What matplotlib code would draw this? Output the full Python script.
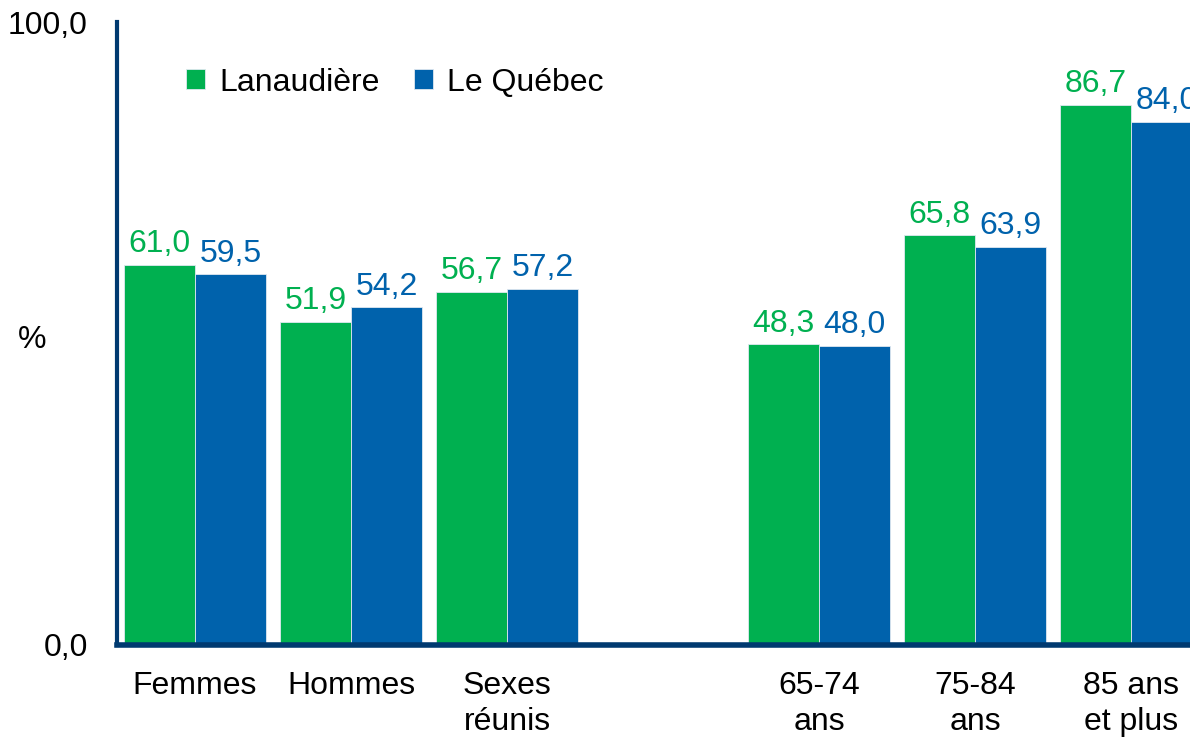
import matplotlib.pyplot as plt
import numpy as np

# Données
categories = ["Femmes", "Hommes", "Sexes\nréunis", "65-74\nans", "75-84\nans", "85 ans\net plus"]
positions = [0, 1, 2, 4, 5, 6]
lanaudiere = [61.0, 51.9, 56.7, 48.3, 65.8, 86.7]
quebec = [59.5, 54.2, 57.2, 48.0, 63.9, 84.0]

vert = "#00B050"
bleu = "#0062AC"
marine = "#003A70"
fs = 23

plt.rcParams['font.family'] = ['Liberation Sans', 'DejaVu Sans']

fig = plt.figure(figsize=(11.9, 7.37), dpi=100)
ax = fig.add_axes([117 / 1190, 92 / 737, 1092 / 1190, 623 / 737])

x = np.array(positions)
w = 0.455
b1 = ax.bar(x - w / 2, lanaudiere, w, color=vert, edgecolor="#dfe8f0", linewidth=0.6, label="Lanaudière")
b2 = ax.bar(x + w / 2, quebec, w, color=bleu, edgecolor="#dfe8f0", linewidth=0.6, label="Le Québec")

# Étiquettes de valeurs
for rect, v in zip(b1, lanaudiere):
    ax.annotate(f"{v:.1f}".replace(".", ","), (rect.get_x() + rect.get_width() / 2, v),
                xytext=(0, 4), textcoords="offset points", ha="center", va="bottom",
                fontsize=fs, color=vert)
for rect, v in zip(b2, quebec):
    ax.annotate(f"{v:.1f}".replace(".", ","), (rect.get_x() + rect.get_width() / 2, v),
                xytext=(0, 4), textcoords="offset points", ha="center", va="bottom",
                fontsize=fs, color=bleu, annotation_clip=False)

ax.set_xlim(-0.5, 6.5)
ax.set_ylim(0, 100)
ax.set_yticks([0, 100])
ax.set_yticklabels(["0,0", "100,0"], fontsize=fs)
ax.set_xticks(positions)
ax.set_xticklabels(categories, fontsize=fs, linespacing=1.25, va="top")
ax.tick_params(axis="both", length=0)
ax.tick_params(axis="x", pad=19)
ax.tick_params(axis="y", pad=21)

ax.set_ylabel("%", rotation=0, fontsize=fs, va="center", ha="center")
ax.yaxis.set_label_coords(-0.078, 0.49)

for s in ["top", "right"]:
    ax.spines[s].set_visible(False)
ax.spines["left"].set_color(marine)
ax.spines["left"].set_linewidth(3)
ax.spines["bottom"].set_color(marine)
ax.spines["bottom"].set_linewidth(4)

ax.legend(loc="upper left", bbox_to_anchor=(0.037, 0.973), ncol=2, frameon=False,
          fontsize=fs, handlelength=0.6, handleheight=0.6, handletextpad=0.45,
          columnspacing=1.05)

plt.savefig("out.png", dpi=100)
